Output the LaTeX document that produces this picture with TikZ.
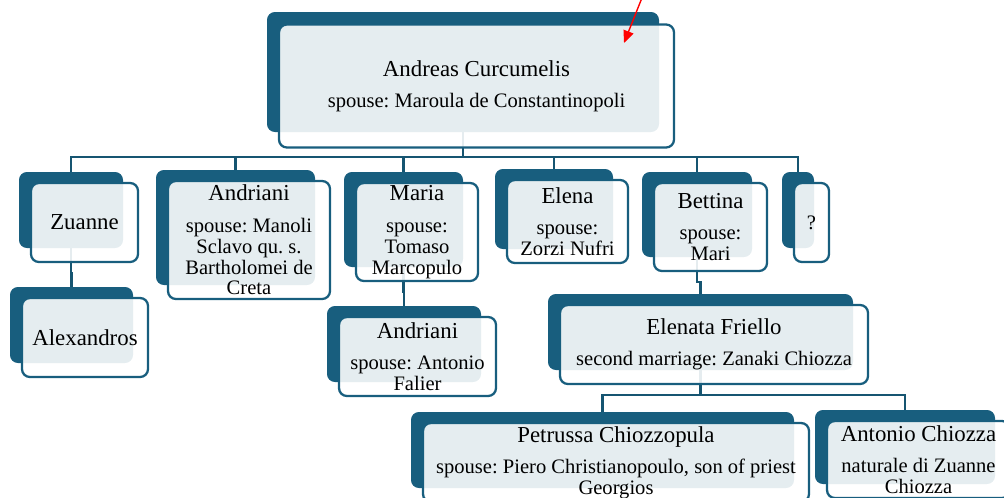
\documentclass[tikz,border=0pt]{standalone}
\usepackage{fontspec}
\setmainfont{Liberation Serif}
\usetikzlibrary{calc,arrows.meta}
\definecolor{treeblue}{RGB}{24,94,126}
\frenchspacing
\newcommand{\personfont}{\fontsize{13}{13}\selectfont}
\tikzset{
  backbox/.style n args={2}{fill=treeblue, rounded corners=4.5pt, inner sep=0pt, outer sep=0pt,
    minimum width=#1*0.02cm, minimum height=#2*0.02cm},
  frontbox/.style n args={2}{draw=treeblue, line width=1.3pt, fill=white, fill opacity=0.89, text opacity=1,
    rounded corners=4.5pt, inner sep=0pt, outer sep=0pt, align=center, font=\fontsize{11.7}{11.9}\selectfont,
    minimum width=(#1+3)*0.02cm, minimum height=(#2+3)*0.02cm},
  link/.style={draw=treeblue!90!black, line width=1.6pt, to path={|- ($(\tikztostart)+(0,25)$) -| (\tikztotarget)}},
  marker/.style={red, line width=0.8pt, -{Triangle[length=7pt, width=6pt]}}
}

\begin{document}
\begin{tikzpicture}[x=0.02cm, y=-0.02cm]
  \useasboundingbox (0,0) rectangle (1004,497);
  \clip (0,0) rectangle (1004,497);
  % back boxes
  \node[backbox={392}{120}] (andreas-back) at (463,72) {};
  \node[backbox={104}{76}] (zuanne-back) at (71,210) {};
  \node[backbox={159}{115}] (andriani-back) at (235.5,227.5) {};
  \node[backbox={119}{95}] (maria-back) at (403.5,219.5) {};
  \node[backbox={118}{80}] (elena-back) at (554,209) {};
  \node[backbox={110}{85}] (bettina-back) at (697,214.5) {};
  \node[backbox={32}{76}] (unknown-back) at (798,210) {};
  \node[backbox={123}{76}] (alexandros-back) at (71.5,325) {};
  \node[backbox={154}{76}] (falier-back) at (404,344) {};
  \node[backbox={305}{76}] (elenata-back) at (700.5,332) {};
  \node[backbox={383}{76}] (petrussa-back) at (602.5,450) {};
  \node[backbox={180}{74}] (antonio-back) at (905,447) {};
  % connectors
  \draw[link] (andreas-back.south) to (zuanne-back.north);
  \draw[link] (andreas-back.south) to (andriani-back.north);
  \draw[link] (andreas-back.south) to (maria-back.north);
  \draw[link] (andreas-back.south) to (elena-back.north);
  \draw[link] (andreas-back.south) to (bettina-back.north);
  \draw[link] (andreas-back.south) to (unknown-back.north);
  \draw[link] (zuanne-back.south) to (alexandros-back.north);
  \draw[link] (maria-back.south) to (falier-back.north);
  \draw[link] (bettina-back.south) to (elenata-back.north);
  \draw[link] (elenata-back.south) to (petrussa-back.north);
  \draw[link] (elenata-back.south) to (antonio-back.north);
  % front boxes
  \node[frontbox={392}{120}] (andreas) at ($(andreas-back)+(13.5,14)$)
    {{\personfont Andreas Curcumelis}\\[6pt]spouse: Maroula de Constantinopoli};
  \node[frontbox={104}{76}] (zuanne) at ($(zuanne-back)+(13.5,12.5)$) {\personfont Zuanne};
  \node[frontbox={159}{115}] (andriani) at ($(andriani-back)+(13.5,12.5)$)
    {{\personfont Andriani}\\[6pt]spouse: Manoli\\Sclavo qu. s.\\Bartholomei de\\Creta};
  \node[frontbox={119}{95}] (maria) at ($(maria-back)+(13.5,12.5)$)
    {{\personfont Maria}\\[6pt]spouse:\\Tomaso\\Marcopulo};
  \node[frontbox={118}{80}] (elena) at ($(elena-back)+(13.5,12.5)$)
    {{\personfont Elena}\\[6pt]spouse:\\Zorzi Nufri};
  \node[frontbox={110}{85}] (bettina) at ($(bettina-back)+(13.5,12.5)$)
    {{\personfont Bettina}\\[6pt]spouse:\\Mari};
  \node[frontbox={32}{76}] (unknown) at ($(unknown-back)+(13.5,12.5)$) {?};
  \node[frontbox={123}{76}] (alexandros) at ($(alexandros-back)+(13.5,12.5)$) {\personfont Alexandros};
  \node[frontbox={154}{76}] (falier) at ($(falier-back)+(13.5,12.5)$)
    {{\personfont Andriani}\\[6pt]spouse: Antonio\\Falier};
  \node[frontbox={305}{76}] (elenata) at ($(elenata-back)+(13.5,12.5)$)
    {{\personfont Elenata Friello}\\[6pt]second marriage: Zanaki Chiozza};
  \node[frontbox={383}{76}] (petrussa) at ($(petrussa-back)+(13.5,12.5)$)
    {{\personfont Petrussa Chiozzopula}\\[6pt]spouse: Piero Christianopoulo, son of priest\\Georgios};
  \node[frontbox={180}{74}] (antonio) at ($(antonio-back)+(13.5,12.5)$)
    {{\personfont Antonio Chiozza}\\[6pt]naturale di Zuanne\\Chiozza};
  % red marker
  \coordinate (markTail) at (643.5,-6);
  \coordinate (markTip) at (624,43);
  \draw[marker] (markTail) -- (markTip);
\end{tikzpicture}
\end{document}
